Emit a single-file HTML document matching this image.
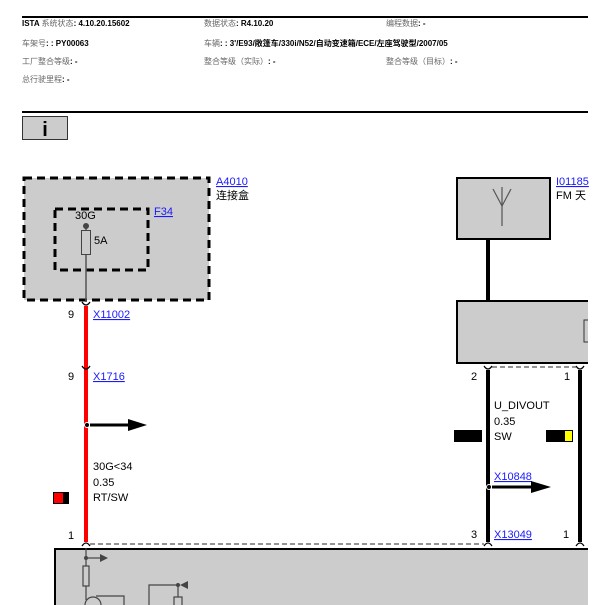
<!DOCTYPE html>
<html><head><meta charset="utf-8"><style>
html,body{margin:0;padding:0;background:#fff;width:604px;height:605px;overflow:hidden}
svg{display:block}
text{font-family:"Liberation Sans","Noto Sans CJK SC",sans-serif}
.h{font-size:8px;fill:#000;font-weight:bold}
.hl{font-size:8px;fill:#666}
.t{font-size:11px;fill:#000}
.l{font-size:11px;fill:#1a1aff;text-decoration:underline}
</style></head><body>
<svg width="604" height="605" viewBox="0 0 604 605" xmlns="http://www.w3.org/2000/svg">
<rect x="0" y="0" width="604" height="605" fill="#fff"/>
<line x1="22" y1="17" x2="588" y2="17" stroke="#000" stroke-width="2"/>
<text x="22" y="26" class="h">ISTA <tspan class="hl" font-weight="normal">系统状态</tspan>: 4.10.20.15602</text>
<text x="204" y="26" class="h"><tspan class="hl" font-weight="normal">数据状态</tspan>: R4.10.20</text>
<text x="386" y="26" class="h"><tspan class="hl" font-weight="normal">编程数据</tspan>: -</text>
<text x="22" y="46" class="h"><tspan class="hl" font-weight="normal">车架号</tspan>: : PY00063</text>
<text x="204" y="46" class="h"><tspan class="hl" font-weight="normal">车辆</tspan>: : 3'/E93/敞篷车/330i/N52/自动变速箱/ECE/左座驾驶型/2007/05</text>
<text x="22" y="64" class="h"><tspan class="hl" font-weight="normal">工厂整合等级</tspan>: -</text>
<text x="204" y="64" class="h"><tspan class="hl" font-weight="normal">整合等级（实际）</tspan>: -</text>
<text x="386" y="64" class="h"><tspan class="hl" font-weight="normal">整合等级（目标）</tspan>: -</text>
<text x="22" y="82" class="h"><tspan class="hl" font-weight="normal">总行驶里程</tspan>: -</text>
<line x1="22" y1="112" x2="588" y2="112" stroke="#000" stroke-width="2"/>
<rect x="22.5" y="116.5" width="45" height="23" fill="#ccc" stroke="#333" stroke-width="1"/>
<text x="45" y="136" font-family="Liberation Serif,serif" font-size="20" font-weight="bold" text-anchor="middle">i</text>

<!-- A4010 -->
<rect x="24" y="178" width="185" height="122" fill="#ccc" stroke="#000" stroke-width="3" stroke-dasharray="8,5"/>
<rect x="55" y="209" width="93" height="61" fill="none" stroke="#000" stroke-width="3" stroke-dasharray="8,5"/>
<text x="216" y="185" class="l">A4010</text>
<text x="216" y="199" class="t" fill="#333">连接盒</text>
<text x="154" y="215" class="l">F34</text>
<text x="75" y="219" class="t" font-size="10">30G</text>
<line x1="86" y1="226" x2="86" y2="302" stroke="#555" stroke-width="1.5"/>
<circle cx="86" cy="226" r="3" fill="#444"/>
<rect x="81.5" y="230.5" width="9" height="24" fill="#ccc" stroke="#444"/>
<text x="94" y="244" class="t" font-size="10">5A</text>

<!-- red wire -->
<line x1="86" y1="306" x2="86" y2="542" stroke="#f00" stroke-width="4"/>
<path d="M82 302 Q86 308 90 302" fill="none" stroke="#000" stroke-width="1.3"/>
<path d="M82 366 Q86 372 90 366" fill="none" stroke="#000" stroke-width="1.3"/>
<path d="M82 546 Q86 540 90 546" fill="none" stroke="#000" stroke-width="1.3"/>
<text x="68" y="318" class="t">9</text>
<text x="93" y="318" class="l">X11002</text>
<text x="68" y="380" class="t">9</text>
<text x="93" y="380" class="l">X1716</text>
<circle cx="87" cy="425" r="2.5" fill="#000" stroke="#fff" stroke-width="1"/>
<line x1="90" y1="425" x2="130" y2="425" stroke="#000" stroke-width="3"/>
<polygon points="128,419 147,425 128,431" fill="#000"/>
<text x="93" y="470" class="t">30G&lt;34</text>
<text x="93" y="486" class="t">0.35</text>
<text x="93" y="501" class="t">RT/SW</text>
<rect x="53" y="492" width="16" height="12" fill="#000"/>
<rect x="54" y="493" width="9" height="10" fill="#f00"/>
<text x="68" y="539" class="t">1</text>
<line x1="90" y1="544" x2="484" y2="544" stroke="#555" stroke-width="1.2" stroke-dasharray="5,3"/>

<!-- bottom box -->
<rect x="55" y="549" width="560" height="70" fill="#ccc" stroke="#000" stroke-width="2"/>
<g stroke="#444" stroke-width="1.2" fill="none">
<line x1="86" y1="548" x2="86" y2="566"/>
<line x1="86" y1="586" x2="86" y2="600"/>
<rect x="83" y="566" width="6" height="20" fill="#ccc"/>
<line x1="86" y1="558" x2="100" y2="558"/>
<circle cx="93" cy="605" r="8"/>
<path d="M96 596 H124 V605"/>
<path d="M149 605 V585 H178 V597"/>
<rect x="174" y="597" width="8" height="10" fill="#ccc"/>
</g>
<circle cx="86" cy="558" r="2" fill="#444"/>
<polygon points="100,554 108,558 100,562" fill="#444"/>
<circle cx="178" cy="585" r="2" fill="#444"/>
<polygon points="188,581 180,585 188,589" fill="#444"/>

<!-- antenna -->
<rect x="457" y="178" width="93" height="61" fill="#ccc" stroke="#000" stroke-width="2"/>
<g stroke="#555" stroke-width="1.2"><line x1="502" y1="187" x2="502" y2="226"/><line x1="493" y1="189" x2="502" y2="206"/><line x1="511" y1="189" x2="502" y2="206"/></g>
<text x="556" y="185" class="l">I01185</text>
<text x="556" y="199" class="t">FM 天</text>
<line x1="488" y1="239" x2="488" y2="302" stroke="#000" stroke-width="4"/>
<rect x="457" y="301" width="140" height="62" fill="#ccc" stroke="#000" stroke-width="2"/>
<rect x="584" y="320" width="10" height="22" fill="#ccc" stroke="#333"/>
<rect x="588" y="290" width="16" height="315" fill="#fff"/>

<!-- right wires -->
<line x1="488" y1="370" x2="488" y2="542" stroke="#000" stroke-width="4"/>
<line x1="580" y1="370" x2="580" y2="542" stroke="#000" stroke-width="4"/>
<path d="M484 366 Q488 372 492 366" fill="none" stroke="#000" stroke-width="1.3"/>
<path d="M576 366 Q580 372 584 366" fill="none" stroke="#000" stroke-width="1.3"/>
<path d="M484 546 Q488 540 492 546" fill="none" stroke="#000" stroke-width="1.3"/>
<path d="M576 546 Q580 540 584 546" fill="none" stroke="#000" stroke-width="1.3"/>
<line x1="492" y1="367" x2="576" y2="367" stroke="#555" stroke-width="1.2" stroke-dasharray="5,3"/>
<text x="471" y="380" class="t">2</text>
<text x="564" y="380" class="t">1</text>
<text x="494" y="409" class="t">U_DIVOUT</text>
<text x="494" y="425" class="t">0.35</text>
<text x="494" y="440" class="t">SW</text>
<rect x="454" y="430" width="28" height="12" fill="#000"/>
<rect x="546" y="430" width="27" height="12" fill="#000"/>
<rect x="565" y="431" width="7" height="10" fill="#ff0"/>
<text x="494" y="480" class="l">X10848</text>
<circle cx="489" cy="487" r="2.5" fill="#000" stroke="#fff" stroke-width="1"/>
<line x1="492" y1="487" x2="532" y2="487" stroke="#000" stroke-width="3"/>
<polygon points="531,481 551,487 531,493" fill="#000"/>
<text x="471" y="538" class="t">3</text>
<text x="494" y="538" class="l">X13049</text>
<text x="563" y="538" class="t">1</text>
<rect x="588" y="370" width="16" height="235" fill="#fff"/>
</svg>
</body></html>
